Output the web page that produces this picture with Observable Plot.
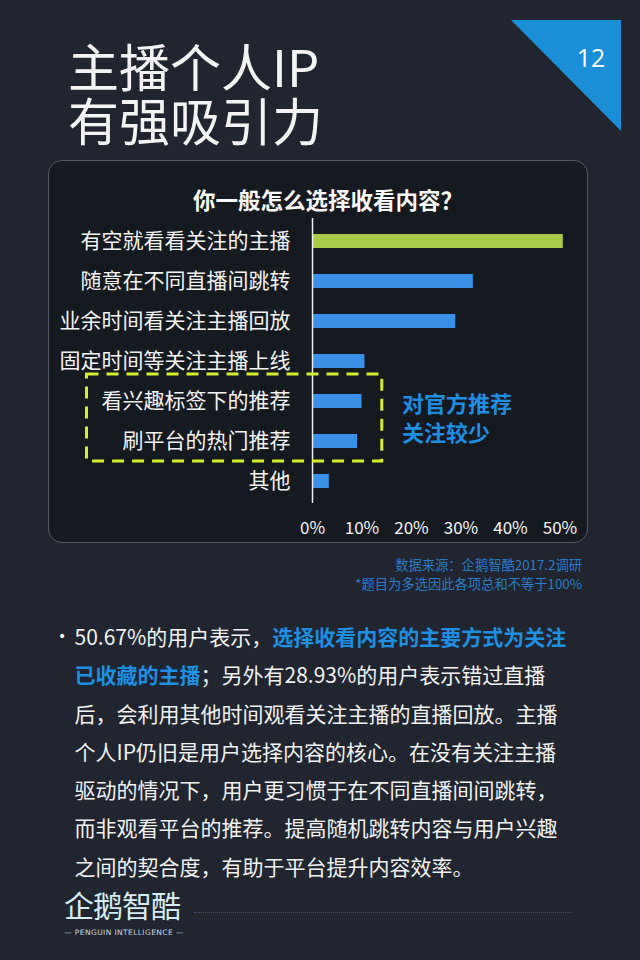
<!DOCTYPE html>
<html>
<head>
<meta charset="utf-8">
<script src="https://cdn.jsdelivr.net/npm/d3@7"></script>
<script src="https://cdn.jsdelivr.net/npm/@observablehq/plot@0.6"></script>
<style>
  html, body { margin: 0; padding: 0; }
  body { width: 640px; height: 960px; overflow: hidden; position: relative; background: #20252f;
         font-family: "Noto Sans CJK SC", "Noto Sans", sans-serif; color: #f2f2f2; }
  .abs { position: absolute; white-space: nowrap; }
  .tline { font-size: 51px; line-height: 50px; font-weight: 400; color: #f4f4f4; left: 68px; }
  #t1 { top: 40px; }
  #t2 { top: 94px; }
  #tri { left: 0; top: 0; }
  #pagenum { left: 560px; top: 42px; width: 62px; text-align: center; font-size: 25px; line-height: 30px; color: #fff; font-family: "Open Sans", sans-serif; }
  #panel { left: 48px; top: 160px; width: 540px; height: 383px; box-sizing: border-box; border: 1.5px solid #525863;
           border-radius: 14px; background: #151920; }
  #charttitle { left: 193px; top: 185px; font-size: 22.5px; line-height: 28px; font-weight: 700; color: #fafafa; }
  #chart { left: 48px; top: 160px; }
  #note { left: 402px; top: 388px; font-size: 22px; line-height: 29px; font-weight: 700; color: #1f8ee0; }
  #src { right: 58px; top: 555px; text-align: right; font-size: 13.3px; line-height: 19px; color: #2a7dc8; }
  #bullet { left: 58px; top: 626px; font-size: 14px; line-height: 20px; font-family: "DejaVu Sans", sans-serif; }
  #para { left: 74.5px; top: 617px; font-size: 21px; line-height: 38.3px; color: #f2f2f2; }
  #para b { color: #1f8fe2; font-weight: 700; }
  #logo { left: 64px; top: 884px; font-size: 30px; line-height: 40px; color: #d6ecf4; letter-spacing: -1px; }
  #logosub { left: 62px; top: 928px; width: 124px; text-align: center; font-size: 7.5px; line-height: 10px; color: #c9d9e2;
             font-family: "DejaVu Sans", sans-serif; letter-spacing: 0.4px; }
  #rule { left: 194px; top: 912px; width: 378px; height: 0; border-top: 1px dotted #3e4c82; }
</style>
</head>
<body>
<svg class="abs" id="tri" width="640" height="160"><polygon points="511,20 621,20 621,131" fill="#1a8fd8"/></svg>
<div class="abs" id="pagenum">12</div>
<div class="abs tline" id="t1">主播个人IP</div>
<div class="abs tline" id="t2">有强吸引力</div>
<div class="abs" id="panel"></div>
<div class="abs" id="charttitle">你一般怎么选择收看内容？</div>
<div class="abs" id="chart"></div>
<div class="abs" id="note">对官方推荐<br>关注较少</div>
<div class="abs" id="src">数据来源：企鹅智酷2017.2调研<br>*题目为多选因此各项总和不等于100%</div>
<div class="abs" id="bullet">•</div>
<div class="abs" id="para">50.67%的用户表示，<b>选择收看内容的主要方式为关注</b><br><b>已收藏的主播</b>；另外有28.93%的用户表示错过直播<br>后，会利用其他时间观看关注主播的直播回放。主播<br>个人IP仍旧是用户选择内容的核心。在没有关注主播<br>驱动的情况下，用户更习惯于在不同直播间间跳转，<br>而非观看平台的推荐。提高随机跳转内容与用户兴趣<br>之间的契合度，有助于平台提升内容效率。</div>
<div class="abs" id="logo">企鹅智酷</div>
<div class="abs" id="logosub">— PENGUIN INTELLIGENCE —</div>
<div class="abs" id="rule"></div>

<script>
// ---- data ----
const categories = [
  "有空就看看关注的主播",
  "随意在不同直播间跳转",
  "业余时间看关注主播回放",
  "固定时间等关注主播上线",
  "看兴趣标签下的推荐",
  "刷平台的热门推荐",
  "其他"
];
const values = [50.67, 32.5, 28.93, 10.6, 10.0, 9.1, 3.4];
const xTicks = [0, 10, 20, 30, 40, 50];
const boxedCategories = ["看兴趣标签下的推荐", "刷平台的热门推荐"];

const data = categories.map((c, i) => ({category: c, value: values[i]}));
const green = "#aacb48", blue = "#3a8fe6";

const chart = Plot.plot({
  width: 540,
  height: 383,
  marginLeft: 264,
  marginRight: 28.5,
  marginTop: 58,
  marginBottom: 40,
  style: {background: "transparent", color: "#f4f4f4", fontFamily: "'Noto Sans CJK SC', sans-serif", overflow: "visible"},
  x: {domain: [0, 50], label: null},
  y: {domain: categories, paddingInner: 0.656, paddingOuter: 0.332, label: null},
  marks: [
    Plot.barX(data, {x: "value", y: "category", fill: d => d.category === categories[0] ? green : blue}),
    Plot.ruleX([0], {stroke: "#f0f0f0", strokeWidth: 1.5}),
    Plot.axisY({tickSize: 0, tickPadding: 22, fontSize: 21, fill: "#f4f4f4"}),
    Plot.axisX({ticks: xTicks, tickFormat: d => d + "%", tickSize: 0, tickPadding: 18, fontSize: 17, fill: "#f4f4f4"})
  ]
});
document.getElementById("chart").appendChild(chart);

// dashed annotation box around the "official recommendation" rows, positioned from the chart's scales
const yScale = chart.scale("y"), xScale = chart.scale("x");
const bandW = yScale.bandwidth;
const boxTop = 160 + yScale.apply(boxedCategories[0]) - 20;
const boxBottom = 160 + yScale.apply(boxedCategories[boxedCategories.length - 1]) + bandW + 13;
const boxLeft = 86.5;
const boxRight = 48 + xScale.apply(14.1);
const ov = d3.select("body").append("svg")
  .attr("class", "abs").style("left", 0).style("top", 0)
  .attr("width", 640).attr("height", 960).style("pointer-events", "none");
ov.append("rect")
  .attr("x", boxLeft).attr("y", boxTop)
  .attr("width", boxRight - boxLeft).attr("height", boxBottom - boxTop)
  .attr("fill", "none").attr("stroke", "#d6ef2c").attr("stroke-width", 3)
  .attr("stroke-dasharray", "12 8");
</script>
</body>
</html>
